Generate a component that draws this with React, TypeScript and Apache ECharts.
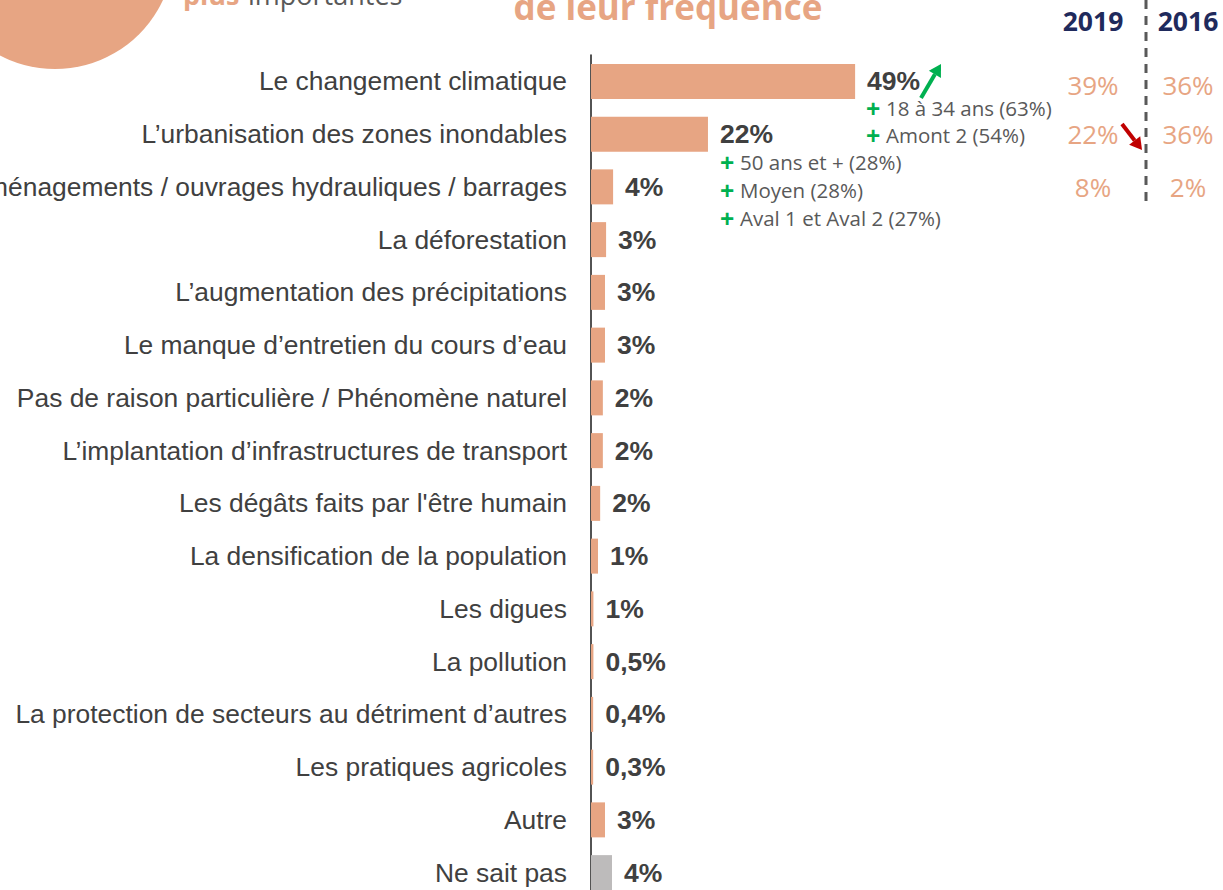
import React, { useEffect, useRef } from "react";
import * as echarts from "echarts";

const categories = [
  "Le changement climatique",
  "L’urbanisation des zones inondables",
  "Les aménagements / ouvrages hydrauliques / barrages",
  "La déforestation",
  "L’augmentation des précipitations",
  "Le manque d’entretien du cours d’eau",
  "Pas de raison particulière / Phénomène naturel",
  "L’implantation d’infrastructures de transport",
  "Les dégâts faits par l'être humain",
  "La densification de la population",
  "Les digues",
  "La pollution",
  "La protection de secteurs au détriment d’autres",
  "Les pratiques agricoles",
  "Autre",
  "Ne sait pas",
];
const values = [49, 21.7, 4.1, 2.8, 2.6, 2.6, 2.2, 2.2, 1.7, 1.3, 0.45, 0.45, 0.4, 0.4, 2.6, 3.9];
const valueLabels = ["49%", "22%", "4%", "3%", "3%", "3%", "2%", "2%", "2%", "1%", "1%", "0,5%", "0,4%", "0,3%", "3%", "4%"];
const years = ["2019", "2016"];
const history2019 = ["39%", "22%", "8%"];
const history2016 = ["36%", "36%", "2%"];
const notesTop = ["18 à 34 ans (63%)", "Amont 2 (54%)"];
const notesSecond = ["50 ans et + (28%)", "Moyen (28%)", "Aval 1 et Aval 2 (27%)"];

const ORANGE = "#E7A583";
const GREY_BAR = "#BDBBBB";
const DARK = "#404040";
const NAVY = "#1F2A5C";
const GREEN = "#00B050";

function note(x: number, y: number, text: string) {
  return {
    type: "group",
    children: [
      { type: "text", x, y, style: { text: "+", fill: GREEN, font: "bold 25px 'Open Sans'", verticalAlign: "middle" } },
      { type: "text", x: x + 20, y, style: { text: text, fill: "#595959", font: "20.5px 'Open Sans'", verticalAlign: "middle" } },
    ],
  };
}

function arrow(x1: number, y1: number, x2: number, y2: number, color: string) {
  const dx = x2 - x1, dy = y2 - y1;
  const len = Math.sqrt(dx * dx + dy * dy);
  const ux = dx / len, uy = dy / len;
  const hl = 12, hw = 7;
  const bx = x2 - ux * hl, by = y2 - uy * hl;
  return {
    type: "group",
    children: [
      { type: "line", shape: { x1, y1, x2: bx, y2: by }, style: { stroke: color, lineWidth: 4 } },
      {
        type: "polygon",
        shape: { points: [[x2, y2], [bx - uy * hw, by + ux * hw], [bx + uy * hw, by - ux * hw]] },
        style: { fill: color },
      },
    ],
  };
}

export default function App() {
  const ref = useRef<HTMLDivElement>(null);
  useEffect(() => {
    const chart = echarts.init(ref.current!, null, { renderer: "svg" });
    const graphics: any[] = [
      { type: "circle", shape: { cx: 55, cy: -50, r: 119 }, style: { fill: ORANGE } },
      { type: "text", x: 183, y: -6, style: { text: "plus", fill: ORANGE, font: "bold 27px 'Open Sans'", verticalAlign: "middle" } },
      { type: "text", x: 248, y: -6, style: { text: "importantes", fill: "#595959", font: "27px 'Open Sans'", verticalAlign: "middle" } },
      { type: "text", x: 668, y: 6, style: { text: "de leur fréquence", fill: ORANGE, font: "bold 35px 'Open Sans'", align: "center", verticalAlign: "middle" } },
      { type: "text", x: 1093, y: 21, style: { text: years[0], fill: NAVY, font: "bold 26.5px 'Open Sans'", align: "center", verticalAlign: "middle" } },
      { type: "text", x: 1188, y: 21, style: { text: years[1], fill: NAVY, font: "bold 26.5px 'Open Sans'", align: "center", verticalAlign: "middle" } },
      { type: "line", shape: { x1: 1146, y1: 0, x2: 1146, y2: 203 }, style: { stroke: "#595959", lineWidth: 3, lineDash: [9, 7] } },
      arrow(921, 98, 941, 64, GREEN),
      arrow(1122, 124, 1142, 150, "#C00000"),
    ];
    const rowY = [85, 134, 187];
    history2019.forEach((t, i) =>
      graphics.push({ type: "text", x: 1093, y: rowY[i], style: { text: t, fill: ORANGE, font: "26px 'Open Sans'", align: "center", verticalAlign: "middle" } })
    );
    history2016.forEach((t, i) =>
      graphics.push({ type: "text", x: 1188, y: rowY[i], style: { text: t, fill: ORANGE, font: "26px 'Open Sans'", align: "center", verticalAlign: "middle" } })
    );
    notesTop.forEach((t, i) => graphics.push(note(866, 108 + i * 27, t)));
    notesSecond.forEach((t, i) => graphics.push(note(720, 162 + i * 28, t)));

    chart.setOption({
      animation: false,
      grid: { left: 591, top: 55, width: 539, height: 844, containLabel: false, outerBoundsMode: "none" },
      xAxis: { type: "value", min: 0, max: 100, show: false },
      yAxis: {
        type: "category",
        inverse: true,
        data: categories,
        axisLine: { show: true, lineStyle: { color: "#1a1a1a", width: 1.5 } },
        axisTick: { show: false },
        axisLabel: { color: DARK, fontSize: 26.4, fontFamily: "'Liberation Sans', Arial", margin: 24 },
      },
      series: [
        {
          type: "bar",
          barWidth: 35,
          data: values.map((v, i) => ({
            value: v,
            itemStyle: { color: i === values.length - 1 ? GREY_BAR : ORANGE },
          })),
          label: {
            show: true,
            position: "right",
            distance: 12,
            color: DARK,
            fontSize: 26.5,
            fontWeight: "bold",
            fontFamily: "'Liberation Sans', Arial",
            formatter: (p: any) => valueLabels[p.dataIndex],
          },
        },
      ],
      graphic: graphics,
    });
    return () => chart.dispose();
  }, []);
  return <div ref={ref} style={{ position: "fixed", left: 0, top: 0, width: 1223, height: 910, background: "#fff" }} />;
}
